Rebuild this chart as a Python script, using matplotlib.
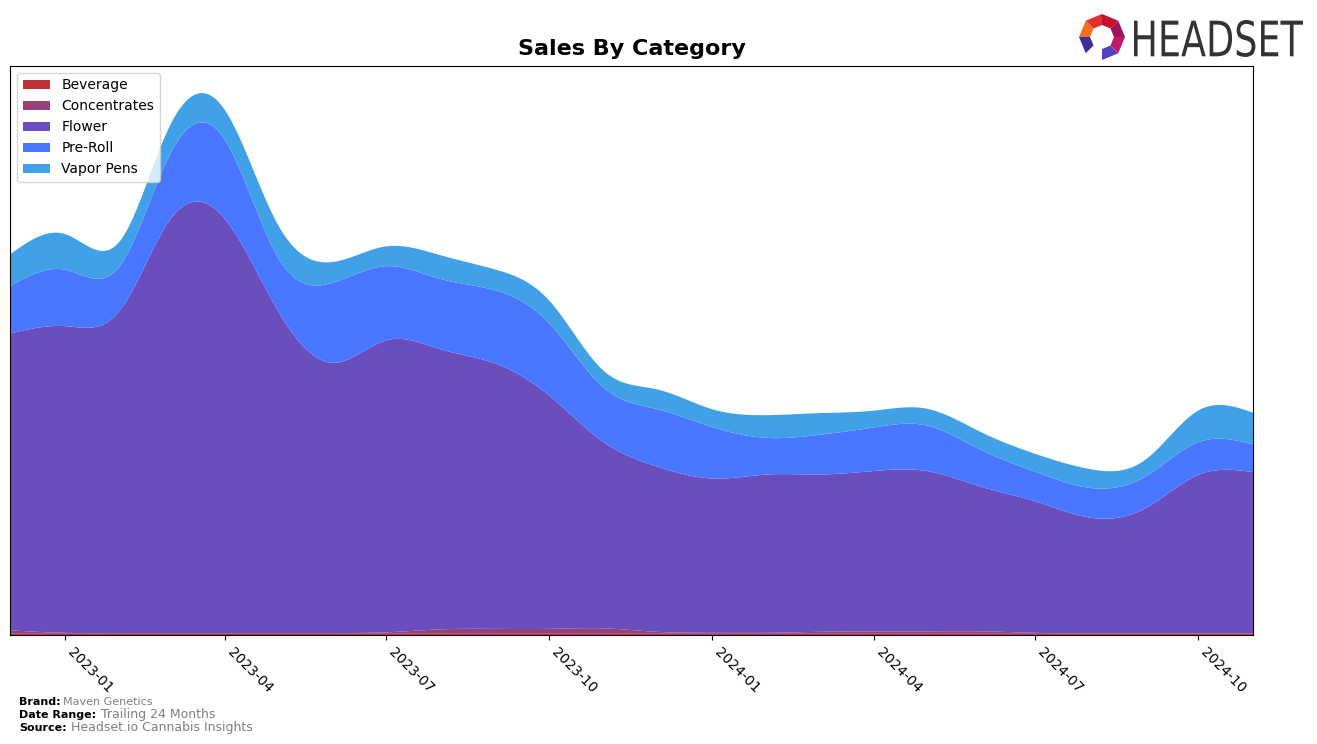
import numpy as np
import pandas as pd
import matplotlib
matplotlib.use("Agg")
import matplotlib.pyplot as plt
import matplotlib.dates as mdates
from matplotlib.textpath import TextPath
from matplotlib.patches import PathPatch, Polygon
from matplotlib.font_manager import FontProperties
from matplotlib.transforms import Affine2D

# monthly sales by category (arbitrary units)
months = pd.date_range("2022-12-01", "2024-11-01", freq="MS")
beverage = [1.2] * 24
concentrates = [3.5, 1.0, 0.8, 0.8, 0.8, 0.8, 0.8, 1.5, 4.5, 5.0, 5.0, 5.5,
                2.0, 1.0, 1.0, 2.0, 2.5, 2.5, 2.5, 1.0, 0.5, 0.5, 0.5, 0.5]
flower = [300, 310, 326, 417, 419, 326, 273, 295, 283, 268, 236, 188,
          167, 156, 160, 159, 162, 162, 146, 133, 117, 126, 160, 163]
preroll = [48, 57, 45, 66, 80, 54, 81, 75, 71, 74, 73, 55,
           58, 52, 37, 40, 44, 46, 37, 30, 30, 32, 33, 28]
vapor = [32, 36, 25, 29, 30, 33, 21, 20, 24, 21, 23, 17,
         20, 18, 23, 22, 17, 17, 18, 18, 19, 17, 32, 32]

labels = ["Beverage", "Concentrates", "Flower", "Pre-Roll", "Vapor Pens"]
colors = ["#c03237", "#964078", "#6a4ebd", "#4876ff", "#40a0e8"]


def smooth(x, y, xs):
    # natural cubic spline through the monthly points
    y = np.asarray(y, dtype=float)
    n = len(x)
    h = np.diff(x)
    A = np.zeros((n, n))
    r = np.zeros(n)
    A[0, 0] = A[-1, -1] = 1
    for i in range(1, n - 1):
        A[i, i - 1] = h[i - 1]
        A[i, i] = 2 * (h[i - 1] + h[i])
        A[i, i + 1] = h[i]
        r[i] = 3 * ((y[i + 1] - y[i]) / h[i] - (y[i] - y[i - 1]) / h[i - 1])
    c = np.linalg.solve(A, r)
    b = (y[1:] - y[:-1]) / h - h * (2 * c[:-1] + c[1:]) / 3
    d = (c[1:] - c[:-1]) / (3 * h)
    idx = np.clip(np.searchsorted(x, xs) - 1, 0, n - 2)
    dx = xs - x[idx]
    return np.clip(y[idx] + b[idx] * dx + c[idx] * dx ** 2 + d[idx] * dx ** 3, 0, None)


x = mdates.date2num(months.to_pydatetime())
xs = np.linspace(x[0], x[-1], 600)
series = [smooth(x, s, xs) for s in [beverage, concentrates, flower, preroll, vapor]]

fig = plt.figure(figsize=(13.17, 7.44), dpi=100)
ax = fig.add_axes([0.0076, 0.1465, 0.9438, 0.7648])
ax.stackplot(xs, series, labels=labels, colors=colors)
ax.set_xlim(x[0], x[-1])
ax.set_ylim(0, np.sum(series, axis=0).max() * 1.05)
ax.set_yticks([])
ax.xaxis.set_major_locator(mdates.MonthLocator(bymonth=[1, 4, 7, 10]))
ax.xaxis.set_major_formatter(mdates.DateFormatter("%Y-%m"))
plt.setp(ax.get_xticklabels(), rotation=-45, ha="left", va="top", fontsize=10)
ax.set_title("Sales By Category", fontsize=16, fontweight="bold", pad=8)
ax.legend(loc="upper left", fontsize=10)

# footer
fig.text(0.0144, 0.053, "Brand:", fontsize=8, fontweight="bold")
fig.text(0.048, 0.053, "Maven Genetics", fontsize=8, color="grey")
fig.text(0.0144, 0.035, "Date Range:", fontsize=8, fontweight="bold")
fig.text(0.077, 0.035, "Trailing 24 Months", fontsize=9, color="grey")
fig.text(0.0144, 0.018, "Source:", fontsize=8, fontweight="bold")
fig.text(0.054, 0.018, "Headset.io Cannabis Insights", fontsize=9, color="grey")

# logo: word mark stretched to the box of the original
tp = TextPath((0, 0), "HEADSET", size=10, prop=FontProperties(family="DejaVu Sans"))
ext = tp.get_extents()
W, H = 1317, 744
x0, x1, yt, yb = 1134, 1303, 20, 57
sx = (x1 - x0) / ext.width
sy = (yb - yt) / ext.height
tr = Affine2D().translate(-ext.x0, -ext.y0).scale(sx / W, sy / H).translate(x0 / W, 1 - yb / H)
fig.patches.append(PathPatch(tr.transform_path(tp), color="#333333", lw=0, transform=fig.transFigure))

# logo: icon
cx, cy = 1102, 37
pts = []
for k in range(8):
    a = np.deg2rad(90 - 45 * k)
    pts.append((np.cos(a), np.sin(a)))
ro, ri = 23, 12
icon_cols = ["#c8102e", "#a0155a", "#c0186a", "#5040c0", None, "#3a2f9a", "#f07020", "#e0302a"]
for k in range(8):
    if icon_cols[k] is None:
        continue
    p0, p1 = pts[k], pts[(k + 1) % 8]
    quad = [(cx + ro * p0[0], cy - ro * p0[1]), (cx + ro * p1[0], cy - ro * p1[1]),
            (cx + ri * p1[0], cy - ri * p1[1]), (cx + ri * p0[0], cy - ri * p0[1])]
    quad = [(u / W, 1 - v / H) for u, v in quad]
    fig.patches.append(Polygon(quad, closed=True, color=icon_cols[k], lw=0, transform=fig.transFigure))

fig.savefig("out.png", dpi=100)
